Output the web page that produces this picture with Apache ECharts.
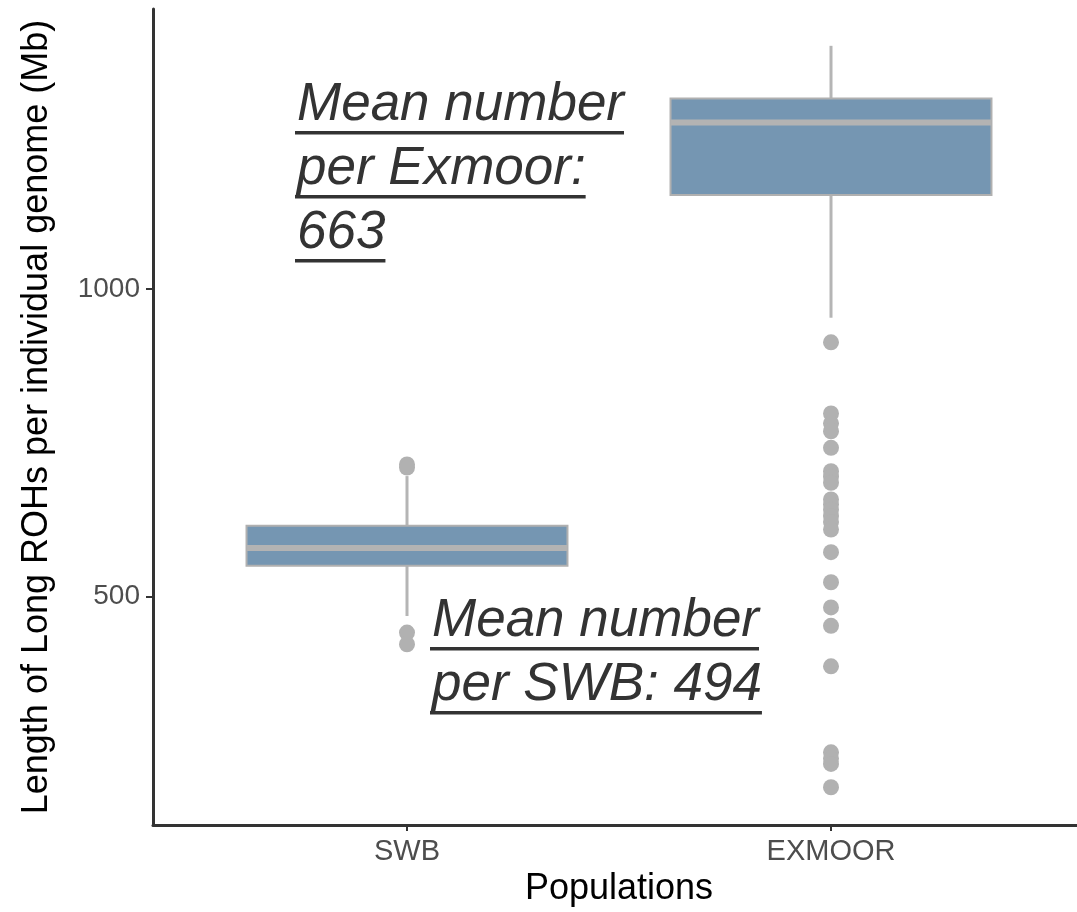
<!DOCTYPE html>
<html>
<head>
<meta charset="utf-8">
<script src="https://cdn.jsdelivr.net/npm/echarts@6/dist/echarts.min.js"></script>
<style>
  html, body { margin: 0; padding: 0; background: #fff; }
  #main { width: 1077px; height: 912px; }
</style>
</head>
<body>
<div id="main"></div>
<script>
// values
var categories = ['SWB', 'EXMOOR'];
var boxMin = [467, 953];
var boxQ1 = [549, 1153];
var boxMedian = [578, 1271];
var boxQ3 = [614, 1310];
var boxMax = [695, 1396];
var swbOutliers = [714, 709, 440, 421];
var exmoorOutliers = [913, 797, 781, 768, 741, 703, 694, 684, 657, 649, 640, 630, 620, 608, 571, 522, 481, 451, 385, 245, 235, 226, 188];
var yTicks = [500, 1000];
var yMin = 128, yMax = 1456;

var noteFont = 'italic 53px "Liberation Sans", Arial, sans-serif';
var exmoorNote = ['Mean number', 'per Exmoor:', '663'];
var swbNote = ['Mean number', 'per SWB: 494'];

var boxData = categories.map(function (c, i) {
  return [i, boxMin[i], boxQ1[i], boxMedian[i], boxQ3[i], boxMax[i]];
});
var outlierData = swbOutliers.map(function (v) { return [0, v]; })
  .concat(exmoorOutliers.map(function (v) { return [1, v]; }));

// text annotations, underlined by hand (zrender has no text-decoration)
var measureCtx = document.createElement('canvas').getContext('2d');
measureCtx.font = noteFont;
function note(lines, x, firstBase) {
  var els = [];
  lines.forEach(function (t, i) {
    var base = firstBase + i * 64;
    var w = measureCtx.measureText(t).width;
    els.push({
      type: 'text',
      style: { text: t, x: x, y: base - 18.4, font: noteFont, fill: '#333', align: 'left', verticalAlign: 'middle' }
    });
    els.push({
      type: 'rect',
      shape: { x: x - 2, y: base + 7, width: w + 2, height: 3.5 },
      style: { fill: '#333' }
    });
  });
  return els;
}

var myChart = echarts.init(document.getElementById('main'));
myChart.setOption({
  animation: false,
  grid: [
    { left: 195, right: 34, top: 9, bottom: 87 },   // data
    { left: 153, right: 0, top: 9, bottom: 87 }     // frame
  ],
  xAxis: [
    {
      type: 'category', gridIndex: 0, data: categories,
      axisLine: { show: false },
      axisTick: { show: true, alignWithLabel: true, length: 7, lineStyle: { color: '#333', width: 2 } },
      axisLabel: { fontSize: 29, color: '#4d4d4d', margin: 13, fontFamily: 'Liberation Sans' },
      name: 'Populations', nameLocation: 'middle', nameGap: 44,
      nameTextStyle: { fontSize: 36, color: '#000', fontFamily: 'Liberation Sans' }
    },
    {
      type: 'value', gridIndex: 1, min: 0, max: 1,
      axisLine: { show: true, onZero: false, lineStyle: { color: '#333', width: 3 } },
      axisTick: { show: false }, axisLabel: { show: false }, splitLine: { show: false }
    }
  ],
  yAxis: [
    { type: 'value', gridIndex: 0, min: yMin, max: yMax, show: false },
    {
      type: 'value', gridIndex: 1, min: yMin, max: yMax,
      axisLine: { show: true, onZero: false, lineStyle: { color: '#333', width: 3 } },
      axisTick: { show: true, length: 7, customValues: yTicks, lineStyle: { color: '#333', width: 2 } },
      axisLabel: {
        customValues: yTicks, fontSize: 28, color: '#4d4d4d', margin: 13, fontFamily: 'Liberation Sans',
        formatter: function (v) { return String(v); }
      },
      splitLine: { show: false },
      name: 'Length of Long ROHs per individual genome (Mb)', nameLocation: 'middle', nameGap: 98,
      nameTextStyle: { fontSize: 36, color: '#000', fontFamily: 'Liberation Sans' }
    }
  ],
  series: [
    {
      type: 'custom', xAxisIndex: 0, yAxisIndex: 0,
      data: boxData,
      encode: { x: 0, y: [1, 2, 3, 4, 5] },
      renderItem: function (params, api) {
        var c = api.value(0);
        var pMin = api.coord([c, api.value(1)]);
        var pQ1 = api.coord([c, api.value(2)]);
        var pMed = api.coord([c, api.value(3)]);
        var pQ3 = api.coord([c, api.value(4)]);
        var pMax = api.coord([c, api.value(5)]);
        var half = api.size([1, 0])[0] * 0.757 / 2;
        var x = pMed[0];
        var whisker = { stroke: '#b5b5b5', lineWidth: 3 };
        return {
          type: 'group',
          children: [
            { type: 'line', shape: { x1: x, y1: pQ3[1], x2: x, y2: pMax[1] }, style: whisker },
            { type: 'line', shape: { x1: x, y1: pQ1[1], x2: x, y2: pMin[1] }, style: whisker },
            { type: 'rect', shape: { x: x - half, y: pQ3[1], width: half * 2, height: pQ1[1] - pQ3[1] },
              style: { fill: '#7596b2', stroke: '#b0b0b0', lineWidth: 2 } },
            { type: 'line', shape: { x1: x - half, y1: pMed[1], x2: x + half, y2: pMed[1] },
              style: { stroke: '#b3b3b3', lineWidth: 6 } }
          ]
        };
      },
      z: 2
    },
    {
      type: 'scatter', xAxisIndex: 0, yAxisIndex: 0,
      data: outlierData,
      symbolSize: 16,
      itemStyle: { color: '#b1b1b1', opacity: 1 },
      z: 3
    }
  ],
  graphic: note(exmoorNote, 297, 124).concat(note(swbNote, 432, 640))
});
</script>
</body>
</html>
